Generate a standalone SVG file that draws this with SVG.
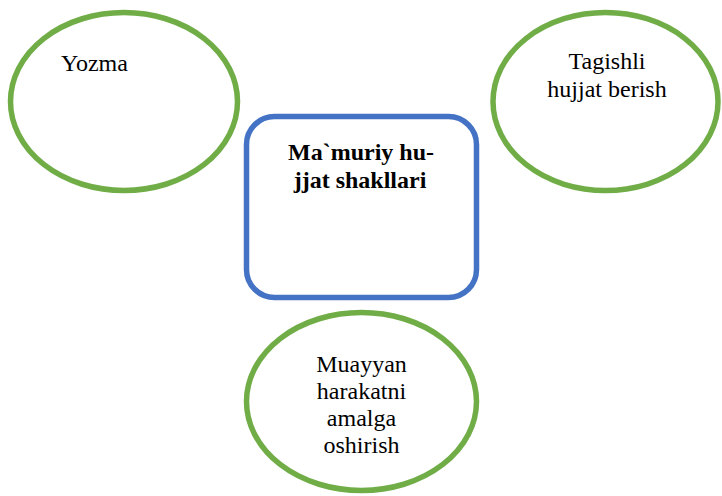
<svg xmlns="http://www.w3.org/2000/svg" width="722" height="496" viewBox="0 0 722 496">
<style>
.oval{fill:#fff;stroke:#70AD47;stroke-width:5.5}
.box{fill:#fff;stroke:#4472C4;stroke-width:5.5}
.t{font-family:"Liberation Serif","Times New Roman",serif;font-size:24px;fill:#000}
.b{font-weight:bold}
</style>
<rect width="722" height="496" fill="#fff"/>
<g id="connectors"/>
<g id="yozma">
<ellipse class="oval" cx="124" cy="101.5" rx="113.5" ry="89"/>
<text class="t" x="61" y="70.5">Yozma</text>
</g>
<g id="tagishli">
<ellipse class="oval" cx="605.5" cy="101.5" rx="112.5" ry="89"/>
<text class="t" x="607" y="68.5" text-anchor="middle">Tagishli</text>
<text class="t" x="607" y="96.5" text-anchor="middle">hujjat berish</text>
</g>
<g id="mamuriy">
<rect class="box" x="246.5" y="116.5" width="230" height="181" rx="28"/>
<text class="t b" x="361" y="160" text-anchor="middle">Ma`muriy hu-</text>
<text class="t b" x="360" y="188" text-anchor="middle">jjat shakllari</text>
</g>
<g id="muayyan">
<ellipse class="oval" cx="361.5" cy="401.5" rx="115" ry="89"/>
<text class="t" x="361.5" y="371.5" text-anchor="middle">Muayyan</text>
<text class="t" x="361.5" y="398.5" text-anchor="middle">harakatni</text>
<text class="t" x="361.5" y="425.5" text-anchor="middle">amalga</text>
<text class="t" x="361.5" y="452.5" text-anchor="middle">oshirish</text>
</g>
</svg>
